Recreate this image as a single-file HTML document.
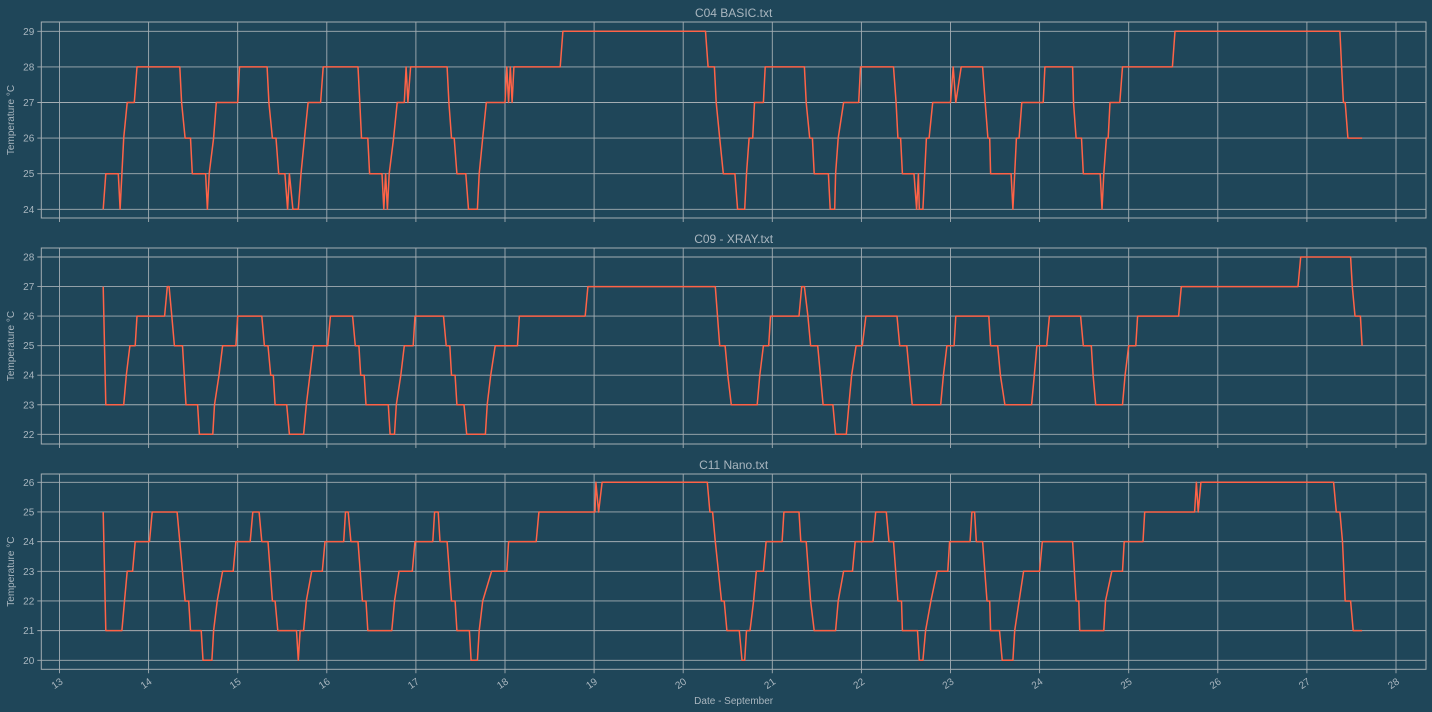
<!DOCTYPE html>
<html><head><meta charset="utf-8"><style>
html,body{margin:0;padding:0;background:#1f4659;}
svg{display:block;font-family:"Liberation Sans","DejaVu Sans",sans-serif;}
</style></head><body>
<svg id="chart" width="1432" height="712" viewBox="0 0 1432 712"></svg>
<script>
const titles = ["C04 BASIC.txt","C09 - XRAY.txt","C11 Nano.txt"];
const xTicks = [13,14,15,16,17,18,19,20,21,22,23,24,25,26,27,28];
const yTicks1 = [24,25,26,27,28,29];
const yTicks2 = [22,23,24,25,26,27,28];
const yTicks3 = [20,21,22,23,24,25,26];
const t1 = [13.49,13.52,13.66,13.68,13.70,13.72,13.76,13.84,13.87,14.35,14.37,14.41,14.47,14.49,14.64,14.66,14.68,14.73,14.76,15.00,15.02,15.33,15.35,15.39,15.43,15.46,15.53,15.56,15.58,15.62,15.68,15.71,15.75,15.79,15.93,15.96,16.35,16.37,16.39,16.46,16.48,16.62,16.64,16.66,16.68,16.70,16.75,16.79,16.87,16.89,16.91,16.94,17.35,17.37,17.40,17.43,17.46,17.56,17.59,17.69,17.71,17.75,17.79,18.00,18.02,18.04,18.06,18.08,18.10,18.62,18.65,20.25,20.28,20.35,20.37,20.41,20.45,20.58,20.61,20.69,20.71,20.74,20.78,20.80,20.90,20.92,21.36,21.38,21.42,21.45,21.47,21.63,21.65,21.70,21.71,21.74,21.80,21.97,21.99,22.36,22.39,22.41,22.44,22.46,22.59,22.62,22.64,22.65,22.69,22.73,22.76,22.80,23.00,23.03,23.06,23.12,23.36,23.39,23.42,23.44,23.45,23.68,23.70,23.72,23.74,23.77,23.80,24.04,24.06,24.37,24.38,24.41,24.47,24.49,24.68,24.70,24.72,24.75,24.77,24.79,24.90,24.93,25.49,25.52,27.37,27.39,27.41,27.43,27.46,27.62];
const v1 = [24,25,25,24,25,26,27,27,28,28,27,26,26,25,25,24,25,26,27,27,28,28,27,26,26,25,25,24,25,24,24,25,26,27,27,28,28,27,26,26,25,25,24,25,24,25,26,27,27,28,27,28,28,27,26,26,25,25,24,24,25,26,27,27,28,27,28,27,28,28,29,29,28,28,27,26,25,25,24,24,25,26,26,27,27,28,28,27,26,26,25,25,24,24,25,26,27,27,28,28,27,26,26,25,25,24,25,24,24,26,26,27,27,28,27,28,28,27,26,26,25,25,24,25,26,26,27,27,28,28,27,26,26,25,25,24,25,26,26,27,27,28,28,29,29,28,27,27,26,26];
const t2 = [13.49,13.52,13.72,13.75,13.79,13.85,13.87,14.18,14.21,14.23,14.26,14.29,14.38,14.42,14.55,14.57,14.72,14.74,14.79,14.83,14.98,15.00,15.27,15.30,15.34,15.37,15.40,15.42,15.55,15.58,15.74,15.77,15.81,15.85,16.01,16.04,16.29,16.32,16.36,16.38,16.42,16.44,16.69,16.71,16.76,16.78,16.83,16.87,16.97,16.99,17.31,17.34,17.38,17.40,17.44,17.46,17.54,17.57,17.78,17.80,17.84,17.89,18.14,18.16,18.90,18.93,20.36,20.41,20.47,20.50,20.54,20.83,20.86,20.90,20.96,20.98,21.30,21.33,21.36,21.40,21.43,21.51,21.54,21.57,21.68,21.71,21.83,21.86,21.89,21.94,22.01,22.05,22.40,22.43,22.51,22.54,22.57,22.89,22.92,22.96,23.04,23.06,23.43,23.45,23.53,23.56,23.61,23.91,23.94,23.97,24.08,24.11,24.46,24.49,24.58,24.60,24.63,24.93,24.96,25.00,25.08,25.10,25.56,25.59,26.90,26.93,27.49,27.51,27.54,27.60,27.62];
const v2 = [27,23,23,24,25,25,26,26,27,27,26,25,25,23,23,22,22,23,24,25,25,26,26,25,25,24,24,23,23,22,22,23,24,25,25,26,26,25,25,24,24,23,23,22,22,23,24,25,25,26,26,25,25,24,24,23,23,22,22,23,24,25,25,26,26,27,27,25,25,24,23,23,24,25,25,26,26,27,27,26,25,25,24,23,23,22,22,23,24,25,25,26,26,25,25,24,23,23,24,25,25,26,26,25,25,24,23,23,24,25,25,26,26,25,25,24,23,23,24,25,25,26,26,27,27,28,28,27,26,26,25];
const t3 = [13.49,13.52,13.70,13.73,13.76,13.82,13.85,14.01,14.04,14.32,14.35,14.41,14.45,14.47,14.59,14.61,14.71,14.73,14.77,14.83,14.95,14.98,15.14,15.17,15.24,15.27,15.34,15.39,15.42,15.45,15.66,15.68,15.70,15.74,15.77,15.83,15.95,15.98,16.19,16.21,16.24,16.27,16.35,16.40,16.44,16.46,16.73,16.76,16.81,16.96,16.99,17.19,17.21,17.25,17.27,17.35,17.40,17.44,17.46,17.60,17.62,17.69,17.71,17.75,17.85,18.02,18.04,18.35,18.38,19.01,19.02,19.05,19.09,20.27,20.30,20.33,20.36,20.43,20.46,20.49,20.63,20.66,20.69,20.71,20.75,20.79,20.82,20.90,20.93,21.11,21.13,21.30,21.32,21.38,21.43,21.47,21.71,21.74,21.80,21.90,21.93,22.13,22.16,22.28,22.31,22.36,22.41,22.45,22.46,22.63,22.65,22.69,22.72,22.78,22.85,22.97,22.99,23.22,23.24,23.27,23.29,23.36,23.41,23.44,23.45,23.55,23.58,23.70,23.72,23.77,23.82,24.00,24.03,24.37,24.41,24.44,24.45,24.72,24.74,24.81,24.93,24.95,25.16,25.18,25.74,25.76,25.78,25.81,27.30,27.33,27.37,27.40,27.43,27.49,27.52,27.62];
const v3 = [25,21,21,22,23,23,24,24,25,25,24,22,22,21,21,20,20,21,22,23,23,24,24,25,25,24,24,22,22,21,21,20,21,21,22,23,23,24,24,25,25,24,24,22,22,21,21,22,23,23,24,24,25,25,24,24,22,22,21,21,20,20,21,22,23,23,24,24,25,25,26,25,26,26,25,25,24,22,22,21,21,20,20,21,21,22,23,23,24,24,25,25,24,24,22,21,21,22,23,23,24,24,25,25,24,24,22,22,21,21,20,20,21,22,23,23,24,24,25,25,24,24,22,22,21,21,20,20,21,22,23,23,24,24,22,22,21,21,22,23,23,24,24,25,25,26,25,26,26,25,25,24,22,22,21,21];

const NS="http://www.w3.org/2000/svg";
const svg=document.getElementById('chart');
function mk(tag,attrs,parent){const e=document.createElementNS(NS,tag);for(const k in attrs)e.setAttribute(k,attrs[k]);(parent||svg).appendChild(e);return e;}
const L=41.3,R=1426;
const x=d=>59.5+(d-13)*89.1;
const panels=[
 {top:22,bot:218,ty0:29,py0:31.3,ty1:24,py1:209.3,ticks:yTicks1,t:t1,v:v1},
 {top:248,bot:444,ty0:28,py0:257,ty1:22,py1:434.3,ticks:yTicks2,t:t2,v:v2},
 {top:474,bot:669.3,ty0:26,py0:482.3,ty1:20,py1:660.3,ticks:yTicks3,t:t3,v:v3}
];
const grid="#a3adb3", txt="#a9b6bf";
panels.forEach((p,i)=>{
  const g=mk('g',{});
  
  
  const y=val=>p.py0+(val-p.ty0)*(p.py1-p.py0)/(p.ty1-p.ty0);
  xTicks.forEach(d=>{
    const gl=mk('line',{x1:x(d),x2:x(d),y1:p.top,y2:p.bot+4,stroke:grid,'stroke-width':0.9},g);
    
    
  });
  p.ticks.forEach(val=>{
    const gl=mk('line',{x1:L-4,x2:R,y1:y(val),y2:y(val),stroke:grid,'stroke-width':0.9},g);
    
    
    const tl=mk('text',{x:L-7,y:y(val)+3.5,'text-anchor':'end','font-size':10,fill:txt},g);
    tl.textContent=val;
    
    
  });
  const fr=mk('rect',{x:L,y:p.top,width:R-L,height:p.bot-p.top,fill:'none',stroke:grid,'stroke-width':1},g);
  
  
  const pts=p.t.map((d,k)=>x(d).toFixed(1)+','+y(p.v[k]).toFixed(1)).join(' ');
  const ln=mk('polyline',{points:pts,fill:'none',stroke:'#ff6347','stroke-width':1.5,'stroke-linejoin':'round'},g);
  
  
  const ti=mk('text',{x:(L+R)/2,y:p.top-5,'text-anchor':'middle','font-size':12,fill:txt},g);
  ti.textContent=titles[i];
  
  
  const yl=mk('text',{x:0,y:0,'text-anchor':'middle','font-size':10,fill:txt,transform:`translate(14,${(p.top+p.bot)/2}) rotate(-90)`},g);
  yl.textContent='Temperature °C';
  
  
});
xTicks.forEach(d=>{
  const tl=mk('text',{x:0,y:0,'text-anchor':'end','font-size':10,fill:txt,transform:`translate(${x(d)+4},${683}) rotate(-35)`});
  tl.textContent=d;
  
  
});
const xt=mk('text',{x:(L+R)/2,y:704,'text-anchor':'middle','font-size':10,fill:txt});
xt.textContent='Date - September';


</script>
</body></html>
